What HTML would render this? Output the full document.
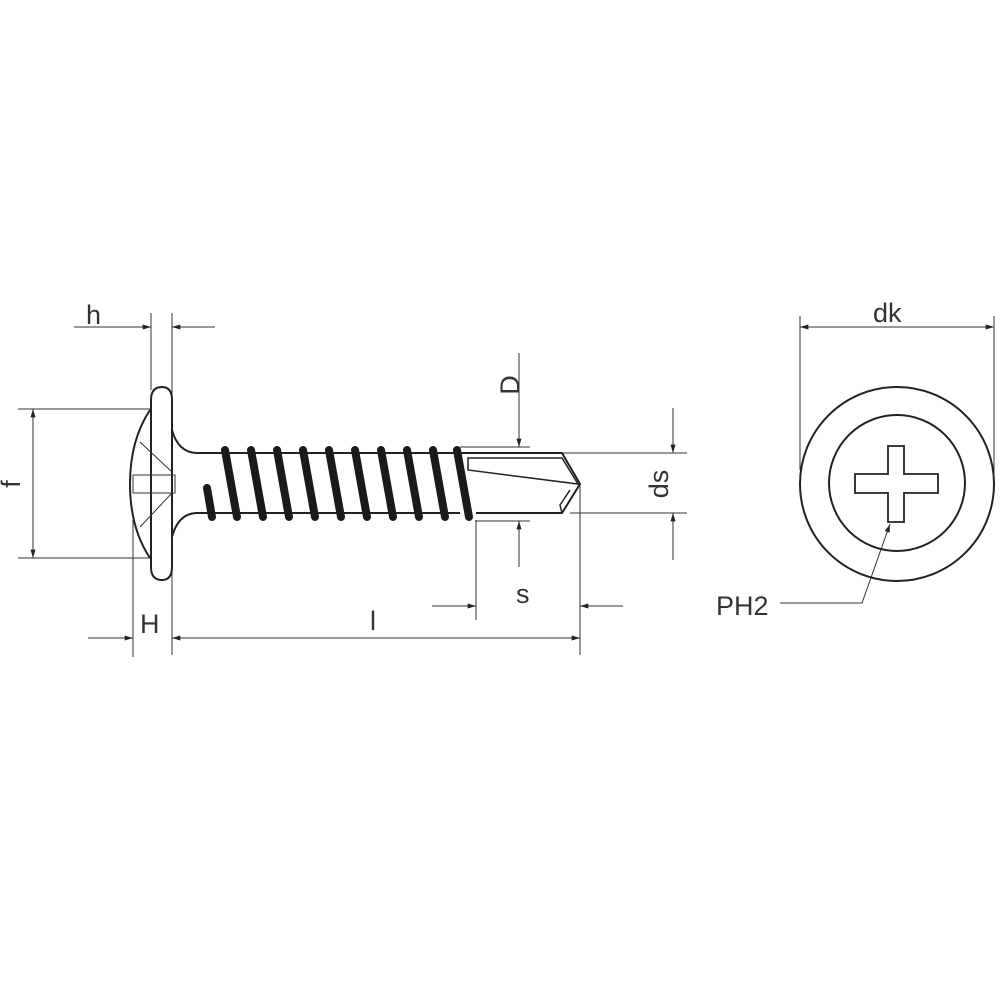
<!DOCTYPE html>
<html><head><meta charset="utf-8"><style>html,body{margin:0;padding:0;background:#fff}svg{display:block}</style></head>
<body>
<svg width="1000" height="1000" viewBox="0 0 1000 1000" xmlns="http://www.w3.org/2000/svg">
<defs>
<marker id="a" viewBox="0 0 10 6" refX="10" refY="3" markerWidth="12" markerHeight="5" orient="auto-start-reverse" markerUnits="userSpaceOnUse"><path d="M0,0 L10,3 L0,6 z" fill="#222"/></marker>
</defs>
<g font-family="Liberation Sans, sans-serif" font-size="27" fill="#333">
<text x="86" y="324">h</text>
<text x="140" y="633">H</text>
<text x="370" y="630">l</text>
<text x="516" y="603">s</text>
<text x="873" y="322">dk</text>
<text x="716" y="615">PH2</text>
<text transform="translate(20,484) rotate(-90)" text-anchor="middle">f</text>
<text transform="translate(519,385) rotate(-90)" text-anchor="middle">D</text>
<text transform="translate(668,484) rotate(-90)" text-anchor="middle">ds</text>
</g>
<g stroke="#333" stroke-width="1" fill="none">
<line x1="151" y1="313" x2="151" y2="390"/>
<line x1="172" y1="313" x2="172" y2="655"/>
<line x1="133" y1="520" x2="133" y2="657"/>
<line x1="18" y1="409" x2="150" y2="409"/>
<line x1="18" y1="558" x2="150" y2="558"/>
<line x1="460" y1="447" x2="530" y2="447"/>
<line x1="475" y1="521" x2="530" y2="521"/>
<line x1="562" y1="453" x2="687" y2="453"/>
<line x1="570" y1="513" x2="687" y2="513"/>
<line x1="476" y1="520" x2="476" y2="620"/>
<line x1="580" y1="484" x2="580" y2="655"/>
<line x1="800" y1="316" x2="800" y2="470"/>
<line x1="994" y1="316" x2="994" y2="480"/>
<line x1="74" y1="327" x2="151" y2="327" marker-end="url(#a)"/>
<line x1="215" y1="327" x2="172" y2="327" marker-end="url(#a)"/>
<line x1="33" y1="409" x2="33" y2="558" marker-start="url(#a)" marker-end="url(#a)"/>
<line x1="88" y1="638" x2="133" y2="638" marker-end="url(#a)"/>
<line x1="172" y1="638" x2="580" y2="638" marker-start="url(#a)" marker-end="url(#a)"/>
<line x1="519" y1="353" x2="519" y2="447" marker-end="url(#a)"/>
<line x1="519" y1="567" x2="519" y2="521" marker-end="url(#a)"/>
<line x1="673" y1="408" x2="673" y2="453" marker-end="url(#a)"/>
<line x1="673" y1="560" x2="673" y2="513" marker-end="url(#a)"/>
<line x1="432" y1="606" x2="476" y2="606" marker-end="url(#a)"/>
<line x1="623" y1="606" x2="580" y2="606" marker-end="url(#a)"/>
<line x1="800" y1="327" x2="994" y2="327" marker-start="url(#a)" marker-end="url(#a)"/>
<path d="M780,603 L862,603 L890,524" marker-end="url(#a)"/>
</g>
<g stroke="#222" stroke-width="2" fill="none">
<path d="M151,400 Q151,387 162,387 Q172,387 172,400 L172,567 Q172,580 162,580 Q151,580 151,567 Z"/>
<path d="M150,410 Q130,440 130,484 Q130,528 150,558"/>
<path d="M172,430 Q178,452 196,453 L460,453"/>
<path d="M172,537 Q178,514 196,513 L460,513"/>
<path d="M460,453 L562,453 L580,484 L562,513 L476,513"/>
<path d="M468,458 L562,458 L578,484 L468,470 Z" stroke-width="1.5"/>
<path d="M570,490 L560,505 L562,513" stroke-width="1.5"/>
</g>
<g stroke="#333" stroke-width="1" fill="none">
<line x1="140" y1="442" x2="172" y2="472"/>
<line x1="140" y1="527" x2="172" y2="493"/>
<rect x="133" y="475" width="42" height="18"/>
</g>
<g stroke="#1a1a1a" stroke-width="8" stroke-linecap="round">
<line x1="225" y1="450" x2="237" y2="517"/>
<line x1="251" y1="450" x2="263" y2="517"/>
<line x1="277" y1="450" x2="289" y2="517"/>
<line x1="303" y1="450" x2="315" y2="517"/>
<line x1="329" y1="450" x2="341" y2="517"/>
<line x1="355" y1="450" x2="367" y2="517"/>
<line x1="381" y1="450" x2="393" y2="517"/>
<line x1="407" y1="450" x2="419" y2="517"/>
<line x1="433" y1="450" x2="445" y2="517"/>
<line x1="457" y1="450" x2="469" y2="517"/>
<line x1="207" y1="488" x2="212" y2="517"/>
</g>
<g stroke="#222" stroke-width="2" fill="none">
<circle cx="897" cy="484" r="97"/>
<circle cx="897" cy="483" r="68"/>
<path d="M888,446 H904 V474 H938 V493 H904 V522 H888 V493 H855 V474 H888 Z" stroke-width="1.8"/>
</g>
</svg>
</body></html>
